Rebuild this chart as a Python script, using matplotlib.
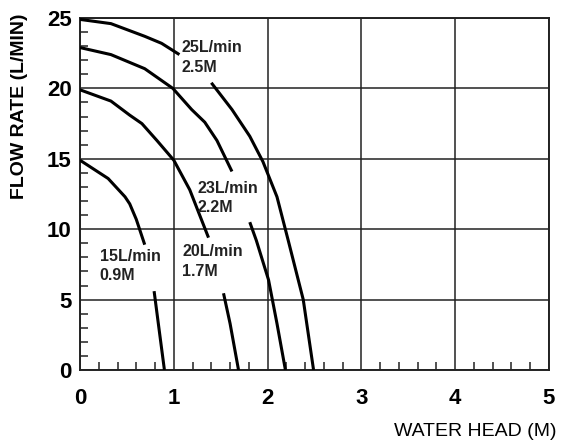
import numpy as np
import matplotlib
matplotlib.use("Agg")
import matplotlib.pyplot as plt
from matplotlib.ticker import MultipleLocator

plt.rcParams['font.family'] = ['Liberation Sans', 'DejaVu Sans']

# pump curves, each split where the label sits
head_25_a = [0, 0.33, 0.69, 0.87, 1.06]
flow_25_a = [24.9, 24.6, 23.7, 23.2, 22.4]
head_25_b = [1.40, 1.62, 1.81, 1.95, 2.10, 2.22, 2.38, 2.49]
flow_25_b = [20.4, 18.5, 16.6, 14.8, 12.3, 9.2, 5.0, 0]

head_23_a = [0, 0.33, 0.69, 0.99, 1.19, 1.33, 1.46, 1.62]
flow_23_a = [22.9, 22.4, 21.4, 20.0, 18.5, 17.6, 16.3, 14.1]
head_23_b = [1.81, 1.88, 2.01, 2.10, 2.19]
flow_23_b = [10.5, 9.2, 6.4, 3.3, 0]

head_20_a = [0, 0.33, 0.53, 0.66, 0.82, 1.0, 1.17, 1.37]
flow_20_a = [19.9, 19.1, 18.1, 17.5, 16.3, 14.9, 12.8, 9.4]
head_20_b = [1.53, 1.60, 1.69]
flow_20_b = [5.45, 3.3, 0]

head_15_a = [0, 0.30, 0.48, 0.53, 0.60, 0.69]
flow_15_a = [14.9, 13.6, 12.3, 11.8, 10.7, 8.9]
head_15_b = [0.79, 0.835, 0.90]
flow_15_b = [5.6, 3.3, 0]

labels = ['25L/min\n2.5M', '23L/min\n2.2M', '20L/min\n1.7M', '15L/min\n0.9M']
label_pos = [(1.08, 22.2), (1.25, 12.2), (1.09, 7.7), (0.21, 7.4)]

x_ticks = [0, 1, 2, 3, 4, 5]
y_ticks = [0, 5, 10, 15, 20, 25]

fig = plt.figure(figsize=(5.61, 4.45), dpi=100)
ax = fig.add_axes([80 / 561, 1 - 370 / 445, 469 / 561, 352 / 445])

segments = [
    (head_25_a, flow_25_a), (head_25_b, flow_25_b),
    (head_23_a, flow_23_a), (head_23_b, flow_23_b),
    (head_20_a, flow_20_a), (head_20_b, flow_20_b),
    (head_15_a, flow_15_a), (head_15_b, flow_15_b),
]
for h, q in segments:
    ax.plot(h, q, color='black', linewidth=2.2, solid_capstyle='butt', zorder=3)

for txt, (x, y) in zip(labels, label_pos):
    ax.text(x, y, txt, fontsize=11.5, fontweight='bold', color='#222222',
            ha='left', va='center', linespacing=1.35)

ax.set_xlim(0, 5)
ax.set_ylim(0, 25)
ax.set_xticks(x_ticks)
ax.set_yticks(y_ticks)
ax.xaxis.set_minor_locator(MultipleLocator(0.2))
ax.yaxis.set_minor_locator(MultipleLocator(1))
ax.grid(True, which='major', color='#222222', linewidth=1.1)
ax.set_axisbelow(True)

for s in ax.spines.values():
    s.set_color('#222222')
    s.set_linewidth(1.4)

ax.tick_params(which='major', length=0)
ax.tick_params(axis='y', which='major', pad=6, labelsize=16)
ax.tick_params(axis='x', which='major', pad=13, labelsize=16)
ax.tick_params(which='minor', direction='in', length=6, width=1.1, color='#222222')
for lab in ax.get_xticklabels() + ax.get_yticklabels():
    lab.set_fontweight('bold')

fig.text(20 / 561, 1 - 106 / 445, 'FLOW RATE (L/MIN)', rotation=90,
         ha='center', va='center', fontsize=14, fontweight='bold')
fig.text(475 / 561, 1 - 431 / 445, 'WATER HEAD (M)', ha='center', va='center',
         fontsize=14)

fig.savefig('out.png', dpi=100)
